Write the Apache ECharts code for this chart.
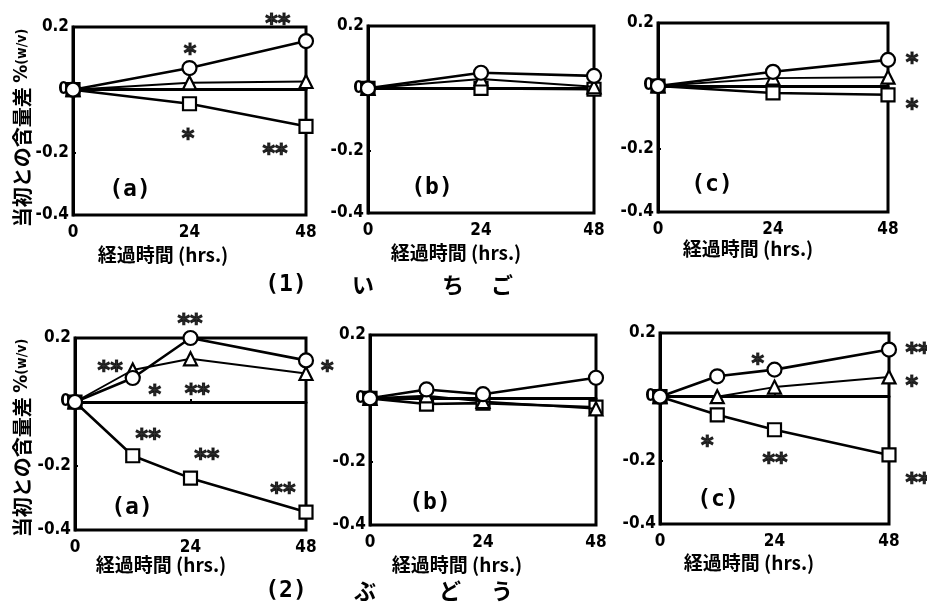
<!DOCTYPE html>
<html><head><meta charset="utf-8">
<script src="https://cdn.jsdelivr.net/npm/echarts@6/dist/echarts.min.js"></script>
<style>html,body{margin:0;padding:0;background:#fff}#c{width:927px;height:604px}</style>
</head><body><div id="c"></div>
<script>
// ---- data ----
const hours1 = [0, 24, 48];
const hours2 = [0, 12, 24, 48];
const yTicks = [-0.4, -0.2, 0, 0.2];
const xTicks = [0, 24, 48];

const p1aCircle = [0, 0.069, 0.155];
const p1aTriangle = [0, 0.022, 0.026];
const p1aSquare = [0, -0.045, -0.117];
const p1bCircle = [0, 0.05, 0.04];
const p1bTriangle = [0, 0.03, 0.005];
const p1bSquare = [0, 0.0, -0.003];
const p1cCircle = [0, 0.045, 0.083];
const p1cTriangle = [0, 0.025, 0.028];
const p1cSquare = [0, -0.022, -0.028];

const p2aCircle = [0, 0.075, 0.2, 0.13];
const p2aTriangle = [0, 0.1, 0.135, 0.089];
const p2aSquare = [0, -0.168, -0.238, -0.344];
const p2bCircle = [0, 0.028, 0.013, 0.065];
const p2bTriangle = [0, 0.008, -0.01, -0.033];
const p2bSquare = [0, -0.018, -0.015, -0.028];
const p2cCircle = [0, 0.064, 0.085, 0.148];
const p2cTriangle = [0, 0.0, 0.03, 0.062];
const p2cSquare = [0, -0.057, -0.104, -0.183];

const controlLine = [0, 0];
const controlHours = [0, 48];

// significance marks: [hour, value, text]
const sig1a = [[42.2, 0.229, '**'], [24.1, 0.133, '*'], [23.7, -0.138, '*'], [41.6, -0.186, '**']];
const sig1b = [];
const sig1c = [[53, 0.092, '*'], [53, -0.054, '*']];
const sig2a = [[23.9, 0.263, '**'], [7.3, 0.116, '**'], [16.6, 0.04, '*'], [25.4, 0.044, '**'], [15.2, -0.097, '**'], [27.4, -0.159, '**'], [43.2, -0.266, '**'], [52.4, 0.116, '*']];
const sig2b = [];
const sig2c = [[20.5, 0.121, '*'], [9.9, -0.136, '*'], [24.1, -0.19, '**'], [54.1, 0.156, '**'], [52.8, 0.052, '*'], [54.1, -0.253, '**']];

const panelLetters = ['(a)', '(b)', '(c)', '(a)', '(b)', '(c)'];
const xName = '経過時間 (hrs.)';
const yNameMain = '当初との含量差 ';
const yNameUnit = '%';
const yNameSub = '(w/v)';
const row1Label = ['(1)', 'い', 'ち', 'ご'];
const row2Label = ['(2)', 'ぶ', 'ど', 'う'];

const panels = [
  {hours: hours1, c: p1aCircle, t: p1aTriangle, s: p1aSquare, sig: sig1a},
  {hours: hours1, c: p1bCircle, t: p1bTriangle, s: p1bSquare, sig: sig1b},
  {hours: hours1, c: p1cCircle, t: p1cTriangle, s: p1cSquare, sig: sig1c},
  {hours: hours2, c: p2aCircle, t: p2aTriangle, s: p2aSquare, sig: sig2a},
  {hours: hours2, c: p2bCircle, t: p2bTriangle, s: p2bSquare, sig: sig2b},
  {hours: hours2, c: p2cCircle, t: p2cTriangle, s: p2cSquare, sig: sig2c}
];

// ---- layout ----
const gridBoxes = [
  {left: 73, top: 27, width: 233, height: 188},
  {left: 368, top: 26, width: 226, height: 187},
  {left: 658, top: 23, width: 230, height: 189},
  {left: 75, top: 338, width: 231, height: 192},
  {left: 370, top: 335, width: 226, height: 190},
  {left: 660, top: 333, width: 229, height: 191}
];
const FONT = '"Noto Sans CJK JP", "DejaVu Sans", sans-serif';
const NUMFONT = '"DejaVu Sans Condensed", "DejaVu Sans", sans-serif';

const chart = echarts.init(document.getElementById('c'), null, {renderer: 'canvas'});

const grid = gridBoxes.map(g => Object.assign({show: true, borderColor: '#000', borderWidth: 3, backgroundColor: 'transparent'}, g));
const xAxis = gridBoxes.map((g, i) => ({
  type: 'value', gridIndex: i, min: xTicks[0], max: xTicks[xTicks.length - 1], interval: 24,
  axisLine: {show: true, lineStyle: {color: '#000', width: 3}},
  axisTick: {show: true, inside: true, length: 3, lineStyle: {color: '#000', width: 2}},
  splitLine: {show: false},
  axisLabel: {color: '#000', fontWeight: 'bold', fontSize: 17, fontFamily: NUMFONT, margin: 9}
}));
const yAxis = gridBoxes.map((g, i) => ({
  type: 'value', gridIndex: i, min: yTicks[0], max: yTicks[yTicks.length - 1], interval: 0.2,
  axisLine: {show: true, lineStyle: {color: '#000', width: 3}},
  axisTick: {show: true, inside: true, length: 3, lineStyle: {color: '#000', width: 2}},
  splitLine: {show: false},
  axisLabel: {color: '#000', fontWeight: 'bold', fontSize: 17, fontFamily: NUMFONT, margin: 4,
    formatter: v => Math.abs(v) < 1e-9 ? '0' : v.toFixed(1)}
}));

const series = [];
function pts(h, v) { return h.map((x, k) => [x, v[k]]); }
panels.forEach((p, i) => {
  series.push({type: 'line', xAxisIndex: i, yAxisIndex: i, data: pts(controlHours, controlLine), showSymbol: false, symbol: 'none',
    lineStyle: {color: '#000', width: 2}, z: 2, silent: true});
  series.push({type: 'line', xAxisIndex: i, yAxisIndex: i, data: pts(p.hours, p.s), symbol: 'rect', symbolSize: 13,
    lineStyle: {color: '#000', width: 2.6}, itemStyle: {color: '#fff', borderColor: '#000', borderWidth: 2.2}, z: 3});
  series.push({type: 'line', xAxisIndex: i, yAxisIndex: i, data: pts(p.hours, p.t), symbol: 'triangle', symbolSize: 13,
    lineStyle: {color: '#000', width: 2}, itemStyle: {color: '#fff', borderColor: '#000', borderWidth: 2.2}, z: 4});
  series.push({type: 'line', xAxisIndex: i, yAxisIndex: i, data: pts(p.hours, p.c), symbol: 'circle', symbolSize: 14,
    lineStyle: {color: '#000', width: 2.6}, itemStyle: {color: '#fff', borderColor: '#000', borderWidth: 2.2}, z: 5});
  if (p.sig.length) {
    series.push({type: 'scatter', xAxisIndex: i, yAxisIndex: i, data: p.sig, symbolSize: 1, clip: false,
      itemStyle: {color: 'rgba(0,0,0,0)'}, z: 6,
      label: {show: true, position: 'inside', formatter: q => q.value[2], color: '#000', fontSize: 24,
        fontWeight: 'bold', fontFamily: '"DejaVu Sans", sans-serif', textBorderColor: '#000', textBorderWidth: 1.2, offset: [0, 7]}});
  }
});

const graphic = [];
const letterPos = [[130, 190], [432, 188], [712, 185], [132, 508], [430, 503], [718, 500]];
panelLetters.forEach((t, i) => graphic.push({type: 'text', x: letterPos[i][0], y: letterPos[i][1],
  style: {text: t, font: 'bold 23px "DejaVu Sans Mono", monospace', fill: '#000', align: 'center', verticalAlign: 'middle'}}));
const xNamePos = [[163, 255], [456, 253], [748, 249], [161, 565], [457, 565], [749, 563]];
xNamePos.forEach(pp => graphic.push({type: 'text', x: pp[0], y: pp[1],
  style: {text: xName, font: 'bold 19px ' + FONT, fill: '#000', align: 'center', verticalAlign: 'middle'}}));
[[22, 128], [22, 438]].forEach(pp => graphic.push({type: 'text', x: pp[0], y: pp[1], rotation: Math.PI / 2,
  style: {text: '{m|' + yNameMain + '}{u|' + yNameUnit + '}{s|' + yNameSub + '}', fill: '#000', align: 'center', verticalAlign: 'middle',
    rich: {m: {font: 'bold 20px ' + FONT, fill: '#000'}, u: {font: 'bold 20px ' + NUMFONT, fill: '#000'}, s: {font: 'bold 14px ' + NUMFONT, fill: '#000'}}}}));
const row1X = [286, 363, 453, 502];
const row2X = [286, 365, 450, 502];
row1Label.forEach((t, k) => graphic.push({type: 'text', x: row1X[k], y: 285,
  style: {text: t, font: (k === 0 ? 'bold 23px "DejaVu Sans Mono", monospace' : 'bold 22px ' + FONT), fill: '#000', align: 'center', verticalAlign: 'middle'}}));
row2Label.forEach((t, k) => graphic.push({type: 'text', x: row2X[k], y: 591,
  style: {text: t, font: (k === 0 ? 'bold 23px "DejaVu Sans Mono", monospace' : 'bold 22px ' + FONT), fill: '#000', align: 'center', verticalAlign: 'middle'}}));

chart.setOption({animation: false, backgroundColor: '#fff', grid, xAxis, yAxis, series, graphic});
</script></body></html>
